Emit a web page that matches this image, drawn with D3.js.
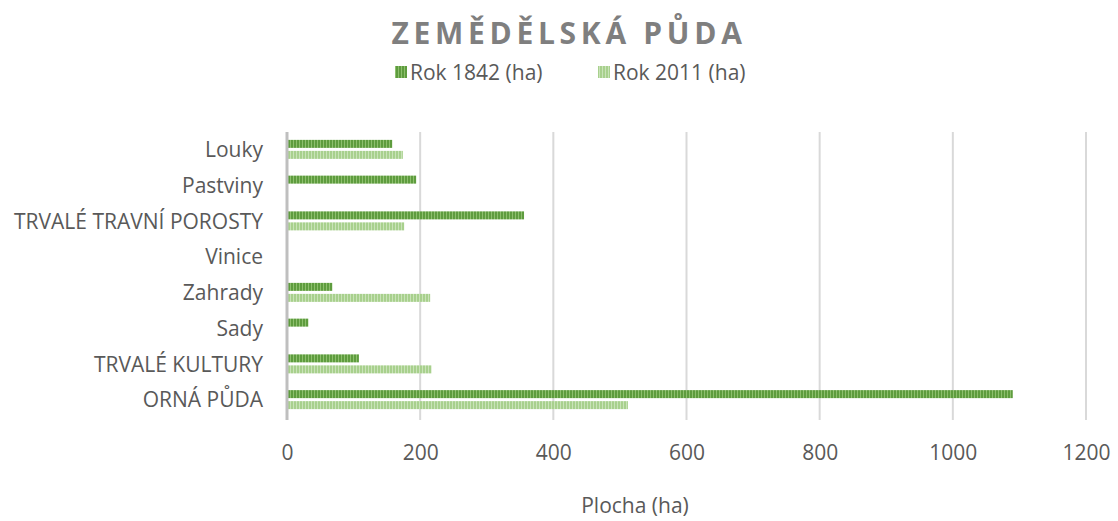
<!DOCTYPE html>
<html><head><meta charset="utf-8">
<script src="https://cdn.jsdelivr.net/npm/d3@7"></script>
<style>body{margin:0;background:#fff}svg{display:block}</style>
</head><body>
<svg id="c" width="1118" height="521"></svg>
<script>
const categories = ["Louky","Pastviny","TRVALÉ TRAVNÍ POROSTY","Vinice","Zahrady","Sady","TRVALÉ KULTURY","ORNÁ PŮDA"];
const series = ["Rok 1842 (ha)","Rok 2011 (ha)"];
const values1842 = [158, 194, 356, 0, 68, 32, 108, 1090];
const values2011 = [174, 0, 176, 0, 215, 0, 217, 512];
const xTicks = [0,200,400,600,800,1000,1200];

const svg = d3.select("#c");
const font = "'Open Sans', 'Noto Sans', sans-serif";
const defs = svg.append("defs");
function pat(id, base, stripe){
  const p = defs.append("pattern").attr("id",id).attr("patternUnits","userSpaceOnUse").attr("width",3).attr("height",10);
  p.append("rect").attr("width",3).attr("height",10).attr("fill",base);
  p.append("rect").attr("x",2).attr("width",1).attr("height",10).attr("fill",stripe);
}
pat("p1842","#5e9c3e","#8dbf6d");
pat("p2011","#a8d08d","#c9e3b8");

const m = {left:287, right:1086, top:132, bottom:418};
const x = d3.scaleLinear().domain([0,1200]).range([m.left,m.right]);
const y = d3.scaleBand().domain(categories).range([m.top,m.bottom]);

// gridlines
svg.append("g").selectAll("line").data(xTicks.slice(1)).join("line")
  .attr("x1",d=>x(d)).attr("x2",d=>x(d)).attr("y1",m.top).attr("y2",m.bottom+2)
  .attr("stroke","#d9d9d9").attr("stroke-width",2);

// bars
const bh = 8, gap = 3;
const data = [];
categories.forEach((c,i)=>{
  data.push({c, v:values1842[i], s:0});
  data.push({c, v:values2011[i], s:1});
});
svg.append("g").selectAll("rect").data(data.filter(d=>d.v>0)).join("rect")
  .attr("x",x(0)+1)
  .attr("y",d=>y(d.c)+y.bandwidth()/2 + (d.s===0 ? -bh - gap/2 : gap/2) - 0.5)
  .attr("width",d=>x(d.v)-x(0)-1)
  .attr("height",bh)
  .attr("fill",d=>d.s===0?"url(#p1842)":"url(#p2011)");

// axis line
svg.append("line").attr("x1",x(0)).attr("x2",x(0)).attr("y1",m.top).attr("y2",m.bottom+2)
  .attr("stroke","#bfbfbf").attr("stroke-width",3);

// y labels
const yAxis = d3.axisLeft(y).tickSize(0).tickPadding(0);
const gy = svg.append("g").attr("transform",`translate(${m.left-24},0)`).call(yAxis);
gy.select(".domain").remove();
gy.selectAll("text").attr("font-family",font).attr("font-size",21).attr("fill","#595959").attr("dy","0.35em");

// x labels
const xAxis = d3.axisBottom(x).tickValues(xTicks).tickFormat(d3.format("d")).tickSize(0).tickPadding(0);
const gx = svg.append("g").attr("transform",`translate(0,445)`).call(xAxis);
gx.select(".domain").remove();
gx.selectAll("text").attr("font-family",font).attr("font-size",21).attr("fill","#595959");

// title
svg.append("text").attr("x",569).attr("y",44).attr("text-anchor","middle")
  .attr("font-family",font).attr("font-weight","bold").attr("font-size",30)
  .attr("letter-spacing",4.7).attr("fill","#7f7f7f").text("ZEMĚDĚLSKÁ PŮDA");

// legend
const lg = svg.append("g");
const lx = [395, 598];
series.forEach((s,i)=>{
  lg.append("rect").attr("x",lx[i]).attr("y",66).attr("width",12).attr("height",12)
    .attr("fill",i===0?"url(#p1842)":"url(#p2011)");
  lg.append("text").attr("x",lx[i]+15).attr("y",80).attr("font-family",font).attr("font-size",21)
    .attr("fill","#595959").text(s);
});

// x title
svg.append("text").attr("x",635).attr("y",513).attr("text-anchor","middle")
  .attr("font-family",font).attr("font-size",21).attr("fill","#595959").text("Plocha (ha)");
</script>
</body></html>
